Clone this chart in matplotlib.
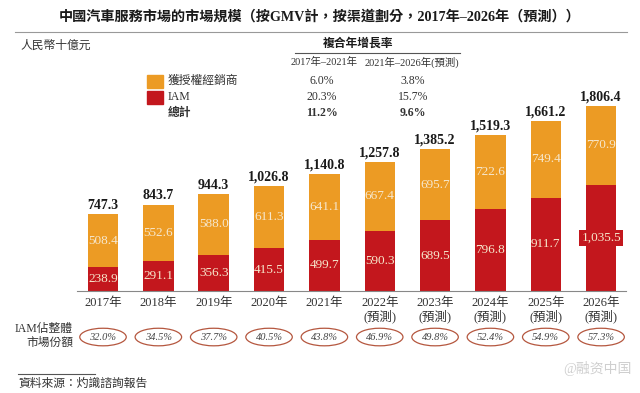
import matplotlib.pyplot as plt
from matplotlib.patches import Ellipse, Rectangle
from matplotlib.lines import Line2D
import numpy as np

# ---------------------------------- data -----------------------------------
years = ['2017年', '2018年', '2019年', '2020年', '2021年',
         '2022年\n(預測)', '2023年\n(預測)', '2024年\n(預測)', '2025年\n(預測)', '2026年\n(預測)']
iam = [238.9, 291.1, 356.3, 415.5, 499.7, 590.3, 689.5, 796.8, 911.7, 1035.5]
dealer = [508.4, 552.6, 588.0, 611.3, 641.1, 667.4, 695.7, 722.6, 749.4, 770.9]
totals = [747.3, 843.7, 944.3, 1026.8, 1140.8, 1257.8, 1385.2, 1519.3, 1661.2, 1806.4]
iam_share = ['32.0%', '34.5%', '37.7%', '40.5%', '43.8%', '46.9%', '49.8%', '52.4%', '54.9%', '57.3%']

cagr_rows = ['獲授權經銷商', 'IAM', '總計']
cagr_1721 = ['6.0%', '20.3%', '11.2%']
cagr_2126 = ['3.8%', '15.7%', '9.6%']
# ---------------------------------------------------------------------------

ORANGE = '#EC9B24'
RED = '#C3171D'
LABEL = '#F6E7CC'
FONT = ['Liberation Serif', 'Noto Sans CJK TC']

plt.rcParams['font.family'] = FONT

fig = plt.figure(figsize=(6.4, 3.93), dpi=100)
ax = fig.add_axes([77/640, 1-291/393, (626-77)/640, 191/393])

x = np.arange(len(years))
ax.bar(x, iam, width=0.55, color=RED)
ax.bar(x, dealer, width=0.55, bottom=iam, color=ORANGE)

for i in x:
    ax.text(i, dealer[i]/2 + iam[i], f'{dealer[i]:,.1f}', ha='center', va='center',
            color=LABEL, fontsize=9.5)
    if i == len(x) - 1:
        ax.text(i, iam[i]/2, f'{iam[i]:,.1f}', ha='center', va='center', color=LABEL,
                fontsize=9.5, bbox=dict(boxstyle='square,pad=0.15', fc=RED, ec='none'))
    else:
        ax.text(i, iam[i]/2, f'{iam[i]:,.1f}', ha='center', va='center', color=LABEL, fontsize=9.5)
    ax.text(i, totals[i] + 25, f'{totals[i]:,.1f}', ha='center', va='bottom',
            fontsize=10, fontweight='bold', color='#1a1a1a')

    e = Ellipse((i, -0.241), 0.84, 0.092, transform=ax.get_xaxis_transform(),
                fill=False, ec='#B5573F', lw=0.9, clip_on=False)
    ax.add_patch(e)
    ax.text(i, -0.241, iam_share[i], transform=ax.get_xaxis_transform(), ha='center',
            va='center', fontsize=7.5, style='italic', color='#444444')

ax.set_xlim(-0.47, 9.45)
ax.set_ylim(0, 1865)
ax.set_xticks(x)
ax.set_xticklabels(years, fontsize=9, color='#333333', linespacing=1.05)
ax.tick_params(axis='x', length=0, pad=4)
ax.set_yticks([])
for s in ['top', 'right', 'left']:
    ax.spines[s].set_visible(False)
ax.spines['bottom'].set_color('#888888')
ax.spines['bottom'].set_linewidth(0.8)

# title and header
fig.text(0.5, 1-17/393, '中國汽車服務市場的市場規模（按GMV計，按渠道劃分，2017年–2026年（預測））',
         ha='center', va='center', fontsize=10.2, fontweight='bold', color='#1a1a1a')
fig.add_artist(Line2D([15/640, 627/640], [1-32/393]*2, color='#999999', lw=0.8))
fig.text(20/640, 1-46/393, '人民幣十億元', ha='left', va='center', fontsize=8.5,
         style='italic', color='#333333')

# CAGR table
fig.text(358/640, 1-44/393, '複合年增長率', ha='center', va='center', fontsize=8.5,
         fontweight='bold', color='#1a1a1a')
fig.add_artist(Line2D([295/640, 460/640], [1-53/393]*2, color='#555555', lw=0.8))
fig.text(324/640, 1-62/393, '2017年–2021年', ha='center', va='center', fontsize=7.5, color='#333333')
fig.text(412/640, 1-62/393, '2021年–2026年(預測)', ha='center', va='center', fontsize=7.5, color='#333333')

row_y = [81, 97, 113]
row_col = [ORANGE, RED, None]
for k in range(len(cagr_rows)):
    yy = 1 - row_y[k]/393
    if row_col[k]:
        fig.add_artist(Rectangle((147/640, yy - 6.5/393), 16/640, 13/393,
                                 color=row_col[k], transform=fig.transFigure))
    bold = 'bold' if k == 2 else 'normal'
    fig.text(168/640, yy, cagr_rows[k], ha='left', va='center', fontsize=8.5,
             fontweight=bold, color='#333333')
    fig.text(322/640, yy, cagr_1721[k], ha='center', va='center', fontsize=8.5,
             fontweight=bold, color='#333333')
    fig.text(413/640, yy, cagr_2126[k], ha='center', va='center', fontsize=8.5,
             fontweight=bold, color='#333333')

# IAM share label
fig.text(73/640, 1-336/393, 'IAM佔整體\n市場份額', ha='right', va='center', fontsize=8.5,
         color='#333333', linespacing=1.2, multialignment='right')

# footer
fig.add_artist(Line2D([18/640, 95/640], [1-374/393]*2, color='#555555', lw=0.8))
fig.text(18/640, 1-384/393, '資料來源：灼識諮詢報告', ha='left', va='center', fontsize=8.5,
         style='italic', color='#333333')
fig.text(632/640, 1-368/393, '@融资中国', ha='right', va='center', fontsize=10,
         color='#cfcfcf')

fig.savefig('out.png', dpi=100)
